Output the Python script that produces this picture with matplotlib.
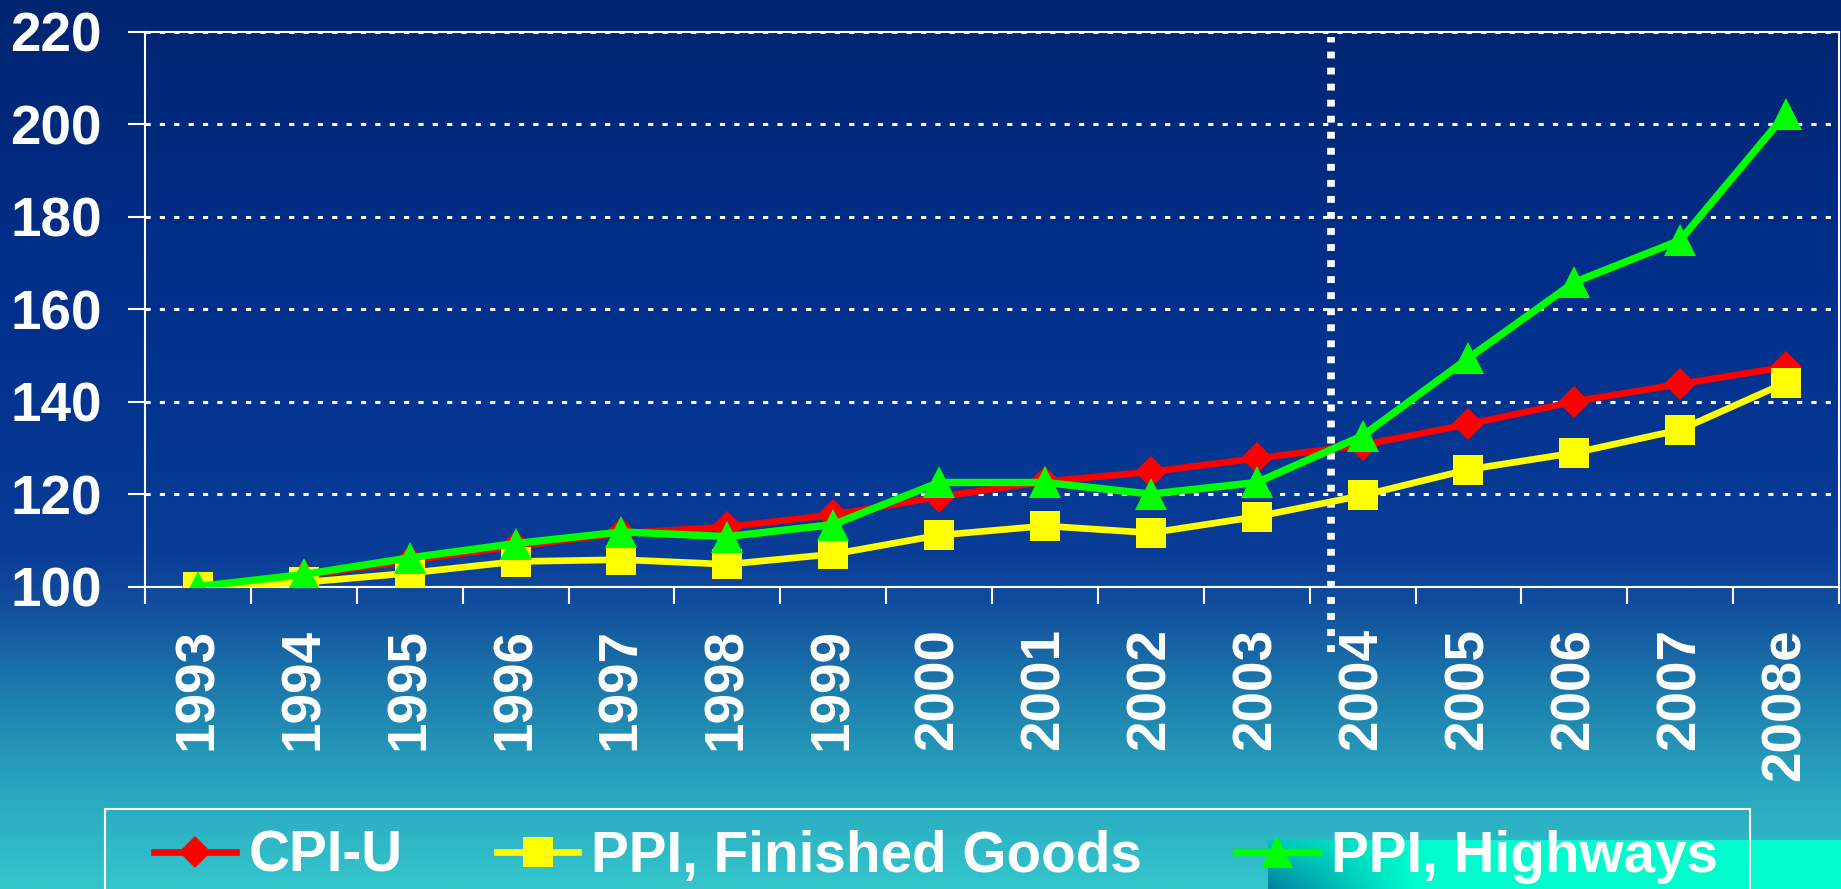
import numpy as np
import matplotlib
matplotlib.use('Agg')
import matplotlib.pyplot as plt
from matplotlib.patches import Rectangle

plt.rcParams['font.family'] = ['Liberation Sans', 'DejaVu Sans']
plt.rcParams['font.weight'] = 'bold'

years = ['1993', '1994', '1995', '1996', '1997', '1998', '1999', '2000',
         '2001', '2002', '2003', '2004', '2005', '2006', '2007', '2008e']
cpi_u = [100, 102.3, 105.6, 108.7, 111.5, 112.9, 115.5, 119.4,
         122.7, 124.8, 127.7, 130.6, 135.1, 140.0, 143.8, 147.5]
ppi_goods = [100, 100.9, 102.9, 105.4, 105.8, 104.8, 107.0, 111.1,
             113.1, 111.6, 115.1, 119.7, 125.3, 128.9, 133.9, 144.1]
ppi_highways = [100, 102.6, 106.2, 109.3, 111.8, 110.8, 113.4, 122.5,
                122.5, 120.0, 122.5, 132.6, 149.4, 165.8, 174.9, 202.3]
y_ticks = [100, 120, 140, 160, 180, 200, 220]
divider_x = 10.7  # between 2003 and 2004

W, H = 1841, 889
fig = plt.figure(figsize=(W / 100, H / 100), dpi=100)

# background gradient (navy -> teal)
stops_y = np.array([0, 300, 550, 600, 700, 800, 889]) / H
stops_c = np.array([(0, 36, 112), (0, 48, 140), (8, 60, 150), (17, 76, 156),
                    (30, 128, 174), (42, 170, 192), (52, 198, 204)]) / 255
yy = np.linspace(0, 1, 400)
grad = np.stack([np.interp(yy, stops_y, stops_c[:, k]) for k in range(3)], axis=1)
grad = np.repeat(grad[:, None, :], 2, axis=1)
bg = fig.add_axes([0, 0, 1, 1], zorder=-10)
bg.imshow(grad, aspect='auto', extent=[0, 1, 0, 1], origin='upper')
bg.axis('off')

# aqua block bottom right
x0 = 1268 / W
deco = fig.add_axes([x0, 0, 1 - x0, (H - 840) / H], zorder=-5)
xn, yn = np.meshgrid(np.linspace(0, 1, 300), np.linspace(1, 0, 50))
wdark = np.clip((1 - xn / 0.25) * (0.45 + 0.55 * (1 - yn)), 0, 1)[..., None]
bright = np.array([0, 252, 206]) / 255
dark = np.array([0, 130, 160]) / 255
deco.imshow(bright * (1 - wdark) + dark * wdark, aspect='auto', extent=[0, 1, 0, 1])
deco.axis('off')

ax = fig.add_axes([145 / W, 1 - 586.5 / H, (1839 - 145) / W, (586.5 - 31.7) / H])
ax.set_facecolor('none')

x = np.arange(len(years))
ax.plot(x, cpi_u, color='#ff0000', lw=4.8, marker='D', ms=16.5, mew=0,
        label='CPI-U', zorder=3)
ax.plot(x, ppi_goods, color='#ffff00', lw=4.8, marker='s', ms=21, mew=0,
        label='PPI, Finished Goods', zorder=4)
ax.plot(x, ppi_highways, color='#00ff00', lw=5.3, marker='^', ms=23, mew=0,
        label='PPI, Highways', zorder=5)

ax.axvline(divider_x, ymin=-0.118, ymax=0.99, color='white', lw=5.5,
           linestyle=(0, (0.9, 1.2)), clip_on=False, zorder=2)

ax.set_xlim(-0.5, len(years) - 0.5)
ax.set_ylim(100, 220)
ax.set_yticks(y_ticks)
ax.set_yticklabels([str(v) for v in y_ticks])
ax.set_xticks(x)
ax.set_xticklabels(years, rotation=90)
ax.set_xticks(np.arange(len(years) + 1) - 0.5, minor=True)
ax.tick_params(axis='x', which='major', length=0, pad=30, labelsize=39.5,
               labelcolor='white')
ax.tick_params(axis='x', which='minor', length=12, width=1.5, color='white',
               direction='out')
ax.tick_params(axis='y', length=12, width=1.5, color='white', pad=19,
               labelsize=39.5, labelcolor='white')
for lab in ax.get_xticklabels() + ax.get_yticklabels():
    lab.set_fontweight('bold')

ax.grid(axis='y', color='white', lw=2.2, linestyle=(0, (1.7, 3)))
for s in ax.spines.values():
    s.set_color('white')
    s.set_linewidth(1.5)

# legend
fig.legend(loc='center left', bbox_to_anchor=(154 / W, 1 - 857 / H), ncol=3,
           frameon=False, borderpad=0, borderaxespad=0, numpoints=1,
           handlelength=1.44, handletextpad=0.23, columnspacing=1.66,
           prop={'size': 40.8, 'weight': 'bold'}, labelcolor='white')
fig.patches.append(Rectangle((105 / W, -0.1), (1750 - 105) / W, 1.1 - 809 / H,
                             transform=fig.transFigure, fill=False,
                             edgecolor='white', lw=1.5, zorder=3))

fig.savefig('out.png', dpi=100)
